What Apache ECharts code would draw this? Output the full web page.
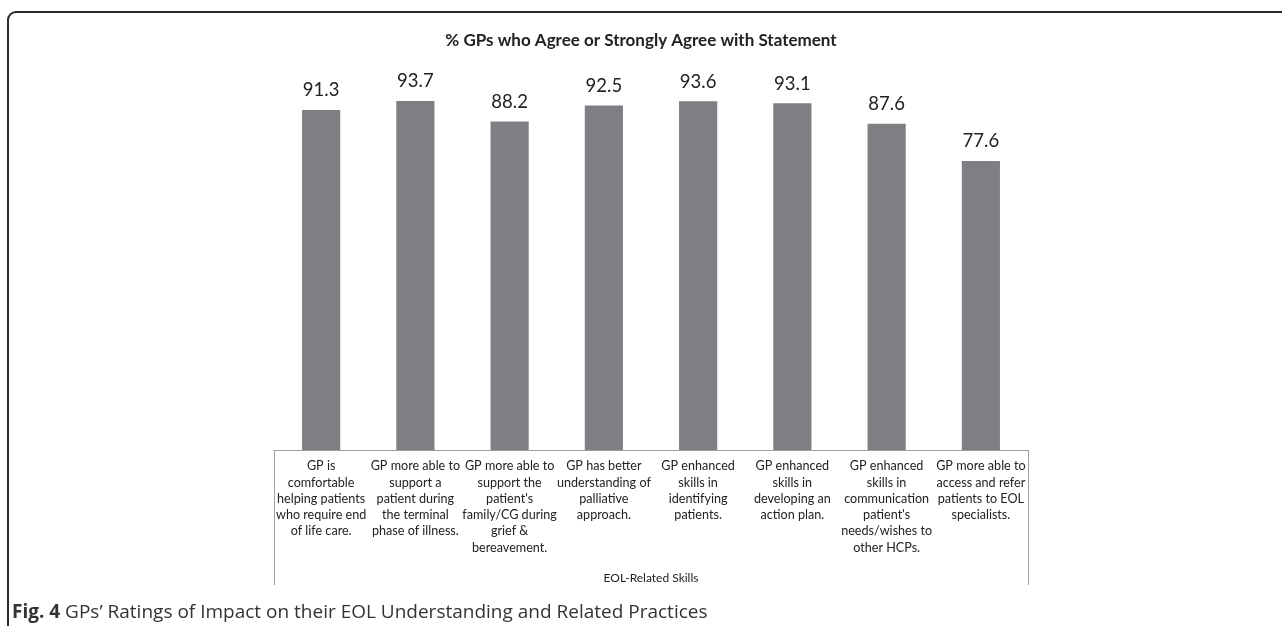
<!DOCTYPE html>
<html>
<head>
<meta charset="utf-8">
<script src="https://cdn.jsdelivr.net/npm/echarts@6/dist/echarts.min.js"></script>
<style>html,body{margin:0;padding:0;background:#fff;}#c{width:1282px;height:626px;}</style>
</head>
<body>
<div id="c"></div>
<script>
const categories = [
  "GP is\ncomfortable\nhelping patients\nwho require end\nof life care.",
  "GP more able to\nsupport a\npatient during\nthe terminal\nphase of illness.",
  "GP more able to\nsupport the\npatient's\nfamily/CG during\ngrief &\nbereavement.",
  "GP has better\nunderstanding of\npalliative\napproach.",
  "GP enhanced\nskills in\nidentifying\npatients.",
  "GP enhanced\nskills in\ndeveloping an\naction plan.",
  "GP enhanced\nskills in\ncommunication\npatient's\nneeds/wishes to\nother HCPs.",
  "GP more able to\naccess and refer\npatients to EOL\nspecialists."
];
const values = [91.3, 93.7, 88.2, 92.5, 93.6, 93.1, 87.6, 77.6];
const titleText = "% GPs who Agree or Strongly Agree with Statement";
const axisName = "EOL-Related Skills";
const captionBold = "Fig. 4";
const captionRest = " GPs\u2019 Ratings of Impact on their EOL Understanding and Related Practices";

const GL = 274, GR = 254, GT = 77.5, GB = 176;
const chart = echarts.init(document.getElementById('c'));
chart.setOption({
  animation: false,
  title: {
    text: titleText, left: 'center', top: 27,
    textStyle: { fontFamily: 'Lato', fontWeight: 'bold', fontSize: 17, color: '#222' }
  },
  grid: { left: GL, right: GR, top: GT, bottom: GB },
  xAxis: {
    type: 'category', data: categories,
    axisLine: { lineStyle: { color: '#a0a0a0', width: 1 } },
    axisTick: { show: false },
    axisLabel: { interval: 0, fontFamily: 'Lato', fontSize: 12.6, color: '#222', lineHeight: 16.3, margin: 8, align: 'center' },
    name: axisName, nameLocation: 'middle', nameGap: 122,
    nameTextStyle: { fontFamily: 'Lato', fontSize: 12, color: '#222' }
  },
  yAxis: { type: 'value', min: 0, max: 100, show: false },
  series: [{
    type: 'bar', data: values, barWidth: '40.5%',
    itemStyle: { color: '#7e7f83' },
    label: { show: true, position: 'top', distance: 10, fontFamily: 'Lato', fontSize: 18.5, color: '#222' }
  }],
  graphic: [
    { type: 'rect', shape: { x: 8, y: 12, width: 1300, height: 640, r: 8 },
      style: { fill: 'none', stroke: '#2a2a2a', lineWidth: 2 }, silent: true },
    { type: 'line', shape: { x1: GL + 0.5, y1: 450, x2: GL + 0.5, y2: 585 },
      style: { stroke: '#a0a0a0', lineWidth: 1 } },
    { type: 'line', shape: { x1: 1282 - GR + 0.5, y1: 450, x2: 1282 - GR + 0.5, y2: 585 },
      style: { stroke: '#a0a0a0', lineWidth: 1 } },
    { type: 'text', left: 12, top: 603,
      style: {
        text: '{b|' + captionBold + '}{r|' + captionRest + '}',
        rich: {
          b: { fontFamily: 'Open Sans', fontWeight: 'bold', fontSize: 19, fill: '#333' },
          r: { fontFamily: 'Open Sans', fontSize: 19, fill: '#333' }
        }
      } }
  ]
});
</script>
</body>
</html>
